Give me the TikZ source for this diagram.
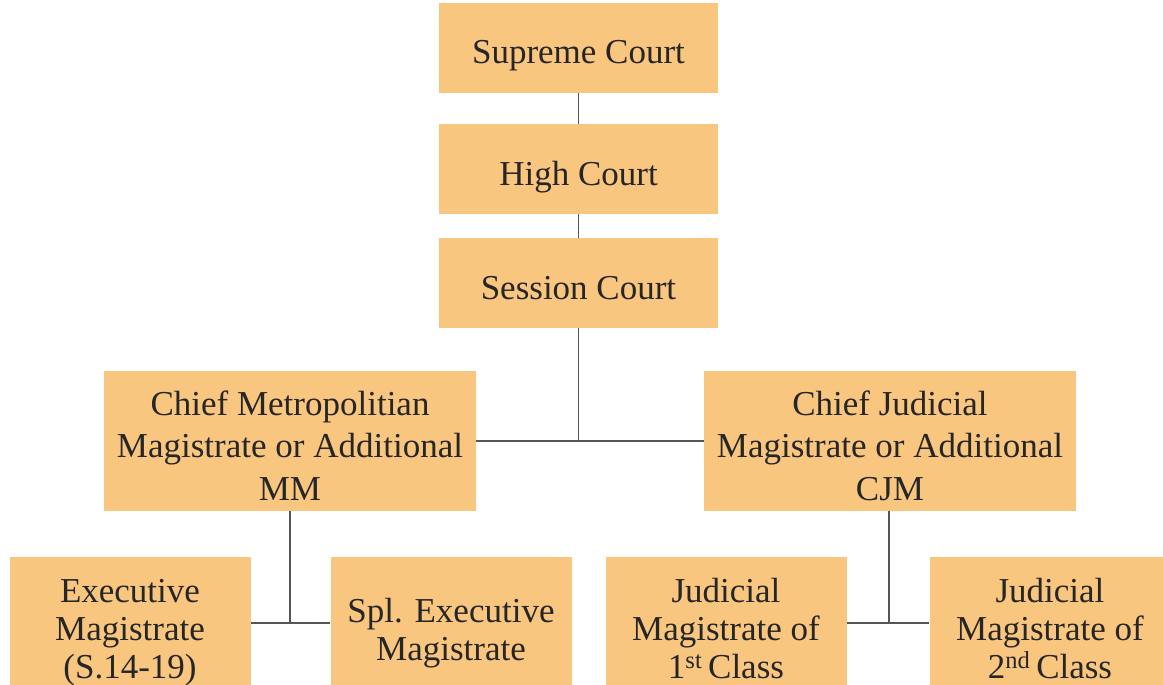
\documentclass[tikz,border=0pt]{standalone}
\usepackage{fontspec}
\setmainfont{Liberation Serif}
\usepackage{tikz}

\definecolor{courtfill}{RGB}{249,198,128}
\definecolor{linkgray}{RGB}{85,85,85}

\begin{document}
\begin{tikzpicture}[x=1pt,y=-1pt,
  court/.style={rectangle,fill=courtfill,inner sep=0pt,align=center,
    font=\fontsize{35}{42.5}\selectfont,text=black!85},
  lowcourt/.style={court,minimum width=241pt,minimum height=146pt,
    font=\fontsize{35}{38}\selectfont},
  link/.style={draw=linkgray,line width=1.4pt}]
\clip (0,0) rectangle (1163,685);
\useasboundingbox (0,0) rectangle (1163,685);
% top of the ladder
\node [court,minimum width=279pt,minimum height=90pt,text height=32pt,text depth=0pt] (sup) at (578.5,48) {Supreme Court};
\node [court,minimum width=279pt,minimum height=90pt,text height=32pt,text depth=0pt] (high) at (578.5,169) {High Court};
\node [court,minimum width=279pt,minimum height=90pt,text height=32pt,text depth=0pt] (sess) at (578.5,283) {Session Court};
% chief magistrates
\node [court,minimum width=372pt,minimum height=140pt,text height=118pt,text depth=0pt] (cmm) at (290,441)
  {Chief Metropolitian\\Magistrate or Additional\\MM};
\node [court,minimum width=372pt,minimum height=140pt,text height=118pt,text depth=0pt] (cjm) at (890,441)
  {Chief Judicial\\Magistrate or Additional\\CJM};
% lower magistrates
\node [lowcourt,text height=96pt,text depth=0pt] (exe) at (130,630)
  {Executive\\Magistrate\\(S.14-19)};
\node [lowcourt,text height=60pt,text depth=0pt] (spl) at (451,630)
  {Spl. Executive\\Magistrate};
\node [lowcourt,text height=96pt,text depth=0pt] (jm1) at (726,630)
  {Judicial\\Magistrate of\\1\textsuperscript{st}\,Class};
\node [lowcourt,text height=96pt,text depth=0pt] (jm2) at (1050,630)
  {Judicial\\Magistrate of\\2\textsuperscript{nd}\,Class};

\coordinate (mid) at (sess.south |- cmm.east);
\coordinate (lft) at (290,623);
\coordinate (rgt) at (889,623);

\draw [link] (sup) -- (high);
\draw [link] (high) -- (sess);
\draw [link] (sess) -- (mid);
\draw [link] (cmm.east) -- (cjm.west);
\draw [link] (cmm.south) -- (lft);
\draw [link] (exe.east |- lft) -- (spl.west |- lft);
\draw [link] (cjm.south -| rgt) -- (rgt);
\draw [link] (jm1.east |- rgt) -- (jm2.west |- rgt);
\end{tikzpicture}
\end{document}
